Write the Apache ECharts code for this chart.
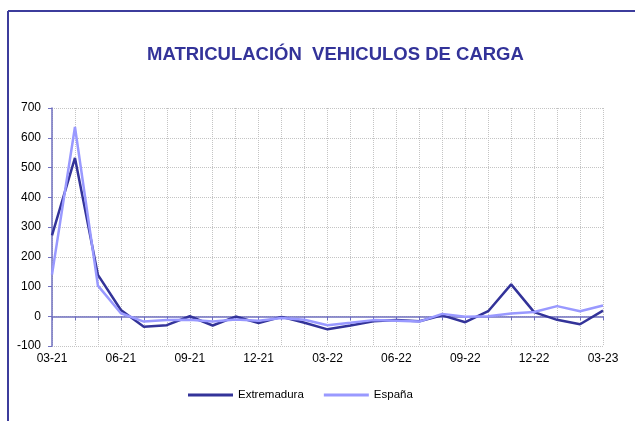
<!DOCTYPE html>
<html>
<head>
<meta charset="utf-8">
<script src="https://cdn.jsdelivr.net/npm/echarts@6/dist/echarts.min.js"></script>
<style>
html,body{margin:0;padding:0;background:#fff;}
#c{width:635px;height:421px;}
</style>
</head>
<body>
<div id="c"></div>
<script>
var months = ['03-21','04-21','05-21','06-21','07-21','08-21','09-21','10-21','11-21','12-21','01-22','02-22','03-22','04-22','05-22','06-22','07-22','08-22','09-22','10-22','11-22','12-22','01-23','02-23','03-23'];
var extremadura = [272, 532, 139, 21, -35, -30, 0, -31, -1, -23, -2, -22, -44, -31, -17, -13, -17, 3, -20, 17, 107, 14, -12, -27, 19];
var espana = [140, 636, 103, 10, -18, -13, -12, -18, -11, -15, -6, -12, -30, -22, -13, -15, -18, 8, -2, 0, 9, 14, 34, 17, 36];
var yTicks = {min: -100, max: 700, interval: 100};
var titleText = 'MATRICULACIÓN  VEHICULOS DE CARGA';
var seriesNames = ['Extremadura', 'España'];

var font = 'Liberation Sans, Arial, sans-serif';
var chart = echarts.init(document.getElementById('c'), null, {renderer: 'canvas'});
chart.setOption({
  animation: false,
  backgroundColor: '#ffffff',
  title: {
    text: titleText,
    left: 147, top: 45, padding: 0,
    textStyle: {fontFamily: font, fontSize: 18.5, fontWeight: 'bold', color: '#333399'}
  },
  legend: {
    data: seriesNames,
    left: 188, top: 389, padding: 0,
    icon: 'rect',
    itemWidth: 45, itemHeight: 3, itemGap: 20,
    textStyle: {fontFamily: font, fontSize: 11.5, color: '#000'}
  },
  grid: {left: 52, right: 32, top: 108, bottom: 75},
  xAxis: {
    type: 'category',
    data: months,
    boundaryGap: false,
    axisLine: {onZero: true, lineStyle: {color: '#7070c0', width: 1.5}},
    axisTick: {show: true, interval: 0, length: 4, lineStyle: {color: '#7070c0'}},
    axisLabel: {interval: 2, margin: 7, fontFamily: font, fontSize: 12, color: '#000'},
    splitLine: {show: true, interval: 0, lineStyle: {color: '#c4c4c4', type: 'dotted', width: 1}}
  },
  yAxis: {
    type: 'value',
    min: yTicks.min, max: yTicks.max, interval: yTicks.interval,
    axisLine: {show: true, lineStyle: {color: '#7070c0', width: 1.5}},
    axisTick: {show: true, length: 4, lineStyle: {color: '#7070c0'}},
    axisLabel: {margin: 11, fontFamily: font, fontSize: 12, color: '#000'},
    splitLine: {show: true, lineStyle: {color: '#c4c4c4', type: 'dotted', width: 1}}
  },
  series: [
    {name: seriesNames[0], type: 'line', data: extremadura, symbol: 'none',
     lineStyle: {color: '#333399', width: 2.5}, itemStyle: {color: '#333399'}},
    {name: seriesNames[1], type: 'line', data: espana, symbol: 'none',
     lineStyle: {color: '#9999ff', width: 2.5}, itemStyle: {color: '#9999ff'}}
  ],
  graphic: [
    {type: 'line', shape: {x1: 8, y1: 11, x2: 635, y2: 11}, style: {stroke: '#3c3c9c', lineWidth: 2}},
    {type: 'line', shape: {x1: 8, y1: 11, x2: 8, y2: 421}, style: {stroke: '#3c3c9c', lineWidth: 2}}
  ]
});
</script>
</body>
</html>
